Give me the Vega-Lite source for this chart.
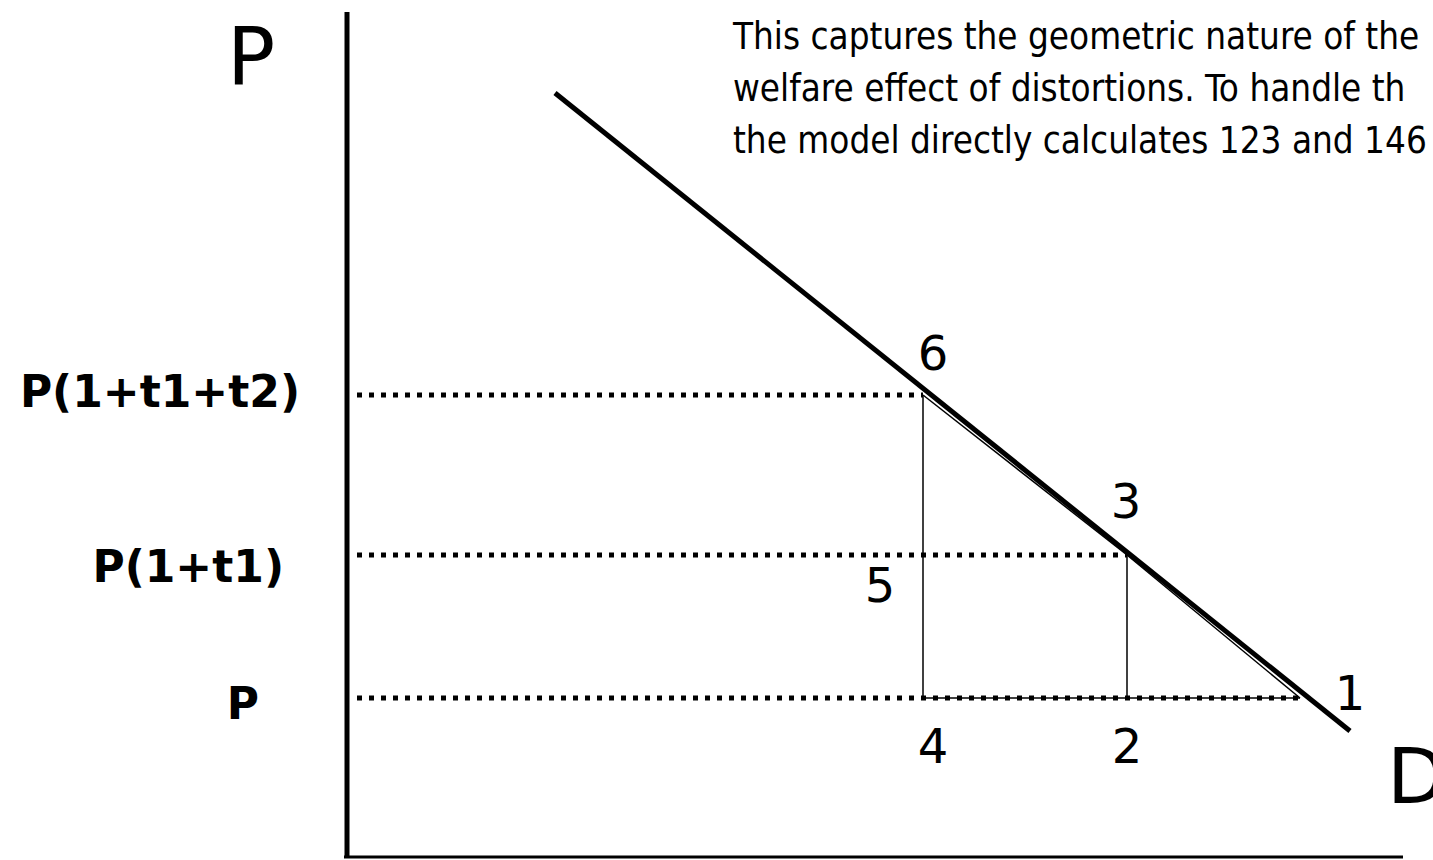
{
  "$schema": "https://vega.github.io/schema/vega-lite/v6.json",
  "width": 1433,
  "height": 860,
  "padding": 0,
  "autosize": {"type": "none"},
  "background": "white",
  "config": {"view": {"stroke": null}},
  "datasets": {
    "axes": [
      {"part": "vaxis", "x": 347, "y": 848, "x2": 347, "y2": 2},
      {"part": "haxis", "x": 344, "y": 3, "x2": 1403, "y2": 3}
    ],
    "demand": [
      {"x": 555, "y": 767, "x2": 1350, "y2": 129}
    ],
    "dotted": [
      {"level": "P(1+t1+t2)", "x": 357, "y": 465, "x2": 923, "y2": 465},
      {"level": "P(1+t1)", "x": 357, "y": 305, "x2": 1127, "y2": 305},
      {"level": "P", "x": 357, "y": 162, "x2": 1300, "y2": 162}
    ],
    "thin": [
      {"seg": "6-4", "x": 923, "y": 465, "x2": 923, "y2": 162},
      {"seg": "3-2", "x": 1127, "y": 305, "x2": 1127, "y2": 162},
      {"seg": "4-1", "x": 923, "y": 162, "x2": 1300, "y2": 162},
      {"seg": "6-3", "x": 923, "y": 465, "x2": 1127, "y2": 305},
      {"seg": "3-1", "x": 1127, "y": 305, "x2": 1300, "y2": 162}
    ],
    "points": [
      {"label": "6", "x": 933, "y": 490},
      {"label": "3", "x": 1126, "y": 342},
      {"label": "5", "x": 880, "y": 258},
      {"label": "1", "x": 1350, "y": 150},
      {"label": "4", "x": 933, "y": 97},
      {"label": "2", "x": 1127, "y": 97}
    ],
    "axisNames": [
      {"label": "P", "x": 251, "y": 775, "align": "center"},
      {"label": "D", "x": 1387, "y": 57, "align": "left"}
    ],
    "levels": [
      {"label": "P(1+t1+t2)", "x": 300, "y": 453},
      {"label": "P(1+t1)", "x": 284, "y": 278},
      {"label": "P", "x": 259, "y": 141}
    ],
    "note": [
      {"line": 1, "text": "This captures the geometric nature of the", "x": 733, "y": 811},
      {"line": 2, "text": "welfare effect of distortions.  To handle th", "x": 733, "y": 759},
      {"line": 3, "text": "the model directly calculates 123 and 146", "x": 733, "y": 707}
    ]
  },
  "encoding": {
    "x": {"field": "x", "type": "quantitative", "scale": {"domain": [0, 1433], "nice": false, "zero": false}, "axis": null},
    "y": {"field": "y", "type": "quantitative", "scale": {"domain": [0, 860], "nice": false, "zero": false}, "axis": null}
  },
  "layer": [
    {
      "data": {"name": "dotted"},
      "mark": {"type": "rule", "color": "black", "strokeWidth": 5, "strokeDash": [5, 7]},
      "encoding": {"x2": {"field": "x2"}, "y2": {"field": "y2"}}
    },
    {
      "data": {"name": "thin"},
      "mark": {"type": "rule", "color": "black", "strokeWidth": 1.5},
      "encoding": {"x2": {"field": "x2"}, "y2": {"field": "y2"}}
    },
    {
      "data": {"name": "demand"},
      "mark": {"type": "rule", "color": "black", "strokeWidth": 5},
      "encoding": {"x2": {"field": "x2"}, "y2": {"field": "y2"}}
    },
    {
      "data": {"name": "axes"},
      "transform": [{"filter": "datum.part === 'vaxis'"}],
      "mark": {"type": "rule", "color": "black", "strokeWidth": 5},
      "encoding": {"x2": {"field": "x2"}, "y2": {"field": "y2"}}
    },
    {
      "data": {"name": "axes"},
      "transform": [{"filter": "datum.part === 'haxis'"}],
      "mark": {"type": "rule", "color": "black", "strokeWidth": 3},
      "encoding": {"x2": {"field": "x2"}, "y2": {"field": "y2"}}
    },
    {
      "data": {"name": "points"},
      "mark": {"type": "text", "font": "DejaVu Sans", "fontSize": 48, "align": "center", "baseline": "alphabetic", "color": "black"},
      "encoding": {"text": {"field": "label"}}
    },
    {
      "data": {"name": "axisNames"},
      "transform": [{"filter": "datum.align === 'center'"}],
      "mark": {"type": "text", "font": "DejaVu Sans", "fontSize": 80, "align": "center", "baseline": "alphabetic", "color": "black"},
      "encoding": {"text": {"field": "label"}}
    },
    {
      "data": {"name": "axisNames"},
      "transform": [{"filter": "datum.align === 'left'"}],
      "mark": {"type": "text", "font": "DejaVu Sans", "fontSize": 77, "align": "left", "baseline": "alphabetic", "color": "black"},
      "encoding": {"text": {"field": "label"}}
    },
    {
      "data": {"name": "levels"},
      "mark": {"type": "text", "font": "DejaVu Sans", "fontWeight": "bold", "fontSize": 44, "align": "right", "baseline": "alphabetic", "color": "black"},
      "encoding": {"text": {"field": "label"}}
    },
    {
      "data": {"name": "note"},
      "mark": {"type": "text", "font": "DejaVu Sans Condensed, Liberation Sans", "fontSize": 36.5, "align": "left", "baseline": "alphabetic", "color": "black"},
      "encoding": {"text": {"field": "text"}}
    }
  ]
}
